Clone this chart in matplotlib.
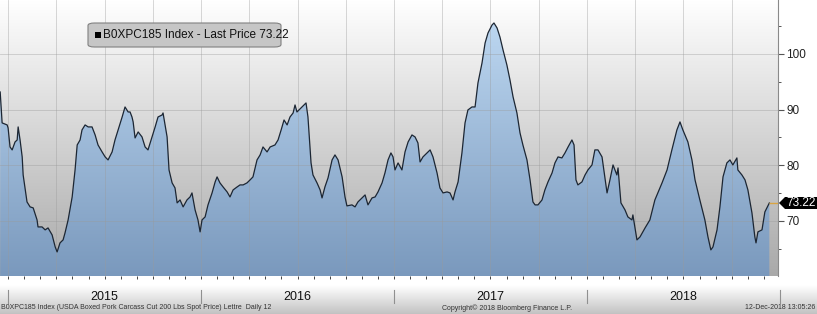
import numpy as np
import matplotlib
matplotlib.use('Agg')
import matplotlib.pyplot as plt
import matplotlib.transforms as mtransforms
from matplotlib.colors import LinearSegmentedColormap
from matplotlib.patches import Polygon, FancyBboxPatch, Rectangle

plt.rcParams['font.family'] = ['Liberation Sans', 'DejaVu Sans']

# data: decimal year / price (USD/cwt)
t = [2014.959, 2014.969, 2014.995, 2015.000, 2015.010, 2015.021, 2015.036, 2015.047, 2015.052, 2015.062,
     2015.073, 2015.078, 2015.098, 2015.114, 2015.130, 2015.150, 2015.155, 2015.176, 2015.192, 2015.207,
     2015.228, 2015.244, 2015.254, 2015.269, 2015.285, 2015.295, 2015.311, 2015.332, 2015.347, 2015.358,
     2015.373, 2015.383, 2015.399, 2015.415, 2015.435, 2015.451, 2015.466, 2015.487, 2015.503, 2015.518,
     2015.539, 2015.554, 2015.570, 2015.591, 2015.606, 2015.622, 2015.632, 2015.642, 2015.648, 2015.658,
     2015.674, 2015.694, 2015.710, 2015.725, 2015.746, 2015.762, 2015.777, 2015.798, 2015.803, 2015.824,
     2015.834, 2015.850, 2015.865, 2015.876, 2015.891, 2015.907, 2015.927, 2015.943, 2015.953, 2015.969,
     2015.984, 2015.995, 2016.005, 2016.021, 2016.036, 2016.057, 2016.073, 2016.083, 2016.098, 2016.114,
     2016.135, 2016.150, 2016.166, 2016.187, 2016.202, 2016.218, 2016.238, 2016.254, 2016.269, 2016.290,
     2016.306, 2016.321, 2016.342, 2016.358, 2016.383, 2016.399, 2016.415, 2016.430, 2016.446, 2016.461,
     2016.477, 2016.487, 2016.497, 2016.518, 2016.534, 2016.544, 2016.554, 2016.570, 2016.580, 2016.601,
     2016.617, 2016.627, 2016.642, 2016.658, 2016.679, 2016.694, 2016.710, 2016.731, 2016.746, 2016.756,
     2016.782, 2016.798, 2016.813, 2016.834, 2016.850, 2016.865, 2016.886, 2016.902, 2016.917, 2016.938,
     2016.953, 2016.969, 2016.984, 2016.995, 2017.005, 2017.021, 2017.041, 2017.057, 2017.073, 2017.093,
     2017.109, 2017.124, 2017.135, 2017.150, 2017.171, 2017.187, 2017.202, 2017.223, 2017.238, 2017.254,
     2017.275, 2017.290, 2017.306, 2017.316, 2017.332, 2017.352, 2017.368, 2017.383, 2017.404, 2017.420,
     2017.435, 2017.456, 2017.472, 2017.487, 2017.508, 2017.518, 2017.534, 2017.549, 2017.565, 2017.585,
     2017.601, 2017.617, 2017.637, 2017.653, 2017.668, 2017.689, 2017.705, 2017.720, 2017.731, 2017.746,
     2017.767, 2017.782, 2017.798, 2017.819, 2017.834, 2017.850, 2017.870, 2017.886, 2017.902, 2017.922,
     2017.933, 2017.943, 2017.953, 2017.974, 2017.990, 2018.005, 2018.026, 2018.041, 2018.057, 2018.078,
     2018.093, 2018.104, 2018.119, 2018.135, 2018.155, 2018.161, 2018.176, 2018.197, 2018.212, 2018.233,
     2018.238, 2018.259, 2018.275, 2018.301, 2018.326, 2018.352, 2018.389, 2018.415, 2018.440, 2018.466,
     2018.482, 2018.497, 2018.523, 2018.544, 2018.560, 2018.585, 2018.611, 2018.627, 2018.642, 2018.653,
     2018.674, 2018.689, 2018.705, 2018.725, 2018.741, 2018.756, 2018.777, 2018.782, 2018.803, 2018.819,
     2018.834, 2018.855, 2018.870, 2018.876, 2018.886, 2018.907, 2018.922, 2018.945]
price = [93.17, 87.61, 87.25, 86.71, 83.29, 82.76, 84.19, 84.55, 86.89, 84.55,
         81.50, 78.26, 73.41, 72.52, 72.34, 70.18, 68.92, 68.92, 68.39, 68.74,
         67.49, 65.33, 64.43, 66.05, 66.59, 67.85, 70.18, 74.31, 79.16, 83.65,
         84.55, 86.35, 87.25, 86.89, 86.89, 85.45, 83.65, 82.40, 81.50, 80.96,
         82.40, 84.55, 86.35, 88.68, 90.48, 89.58, 89.58, 88.68, 87.79, 84.91,
         85.99, 85.09, 83.29, 82.76, 85.09, 86.89, 88.68, 89.04, 89.40, 85.09,
         79.16, 76.83, 75.93, 73.24, 73.77, 72.52, 73.77, 74.31, 75.03, 71.98,
         70.18, 68.03, 70.18, 70.72, 72.88, 75.03, 77.01, 77.91, 76.83, 76.11,
         75.21, 74.31, 75.57, 76.11, 76.47, 76.47, 76.83, 77.37, 77.91, 80.96,
         81.86, 83.29, 82.40, 83.29, 83.65, 84.55, 86.35, 88.14, 87.25, 88.68,
         89.40, 90.84, 89.58, 90.30, 90.84, 91.20, 88.68, 80.42, 78.26, 76.83,
         75.57, 74.13, 76.11, 77.73, 80.96, 81.86, 80.96, 77.91, 74.31, 72.70,
         72.88, 72.52, 73.41, 74.13, 74.67, 72.88, 74.13, 74.31, 75.21, 76.83,
         78.62, 80.96, 82.22, 81.50, 79.16, 80.42, 79.16, 82.40, 84.19, 85.45,
         85.09, 84.01, 80.60, 81.50, 82.22, 82.76, 81.50, 78.62, 75.93, 75.03,
         75.21, 75.03, 73.77, 75.21, 77.01, 82.22, 87.61, 89.94, 90.48, 90.48,
         94.79, 98.38, 101.98, 103.77, 105.21, 105.57, 104.67, 103.05, 100.72, 98.02,
         95.33, 92.28, 89.40, 85.81, 83.65, 80.96, 77.37, 73.41, 72.88, 72.88,
         73.77, 75.57, 77.01, 78.62, 80.42, 81.50, 81.32, 82.22, 83.29, 84.55,
         83.65, 77.37, 76.47, 77.01, 78.26, 79.16, 80.06, 82.76, 82.76, 81.50,
         77.73, 75.03, 77.37, 80.06, 78.26, 79.52, 73.24, 71.98, 70.72, 70.18,
         71.08, 66.59, 67.13, 68.74, 70.18, 73.77, 76.83, 79.16, 82.76, 86.35,
         87.79, 86.35, 84.19, 80.96, 77.37, 73.77, 70.18, 67.13, 64.79, 65.33,
         68.39, 72.52, 77.91, 80.42, 80.96, 80.06, 81.32, 79.16, 78.26, 77.37,
         75.57, 71.44, 67.13, 66.05, 68.03, 68.39, 71.62, 73.22]

years = [2015, 2016, 2017, 2018]
y_ticks = [70, 80, 90, 100]
last_price = 73.22
series_name = 'B0XPC185 Index - Last Price 73.22'
footer_left = 'B0XPC185 Index (USDA Boxed Pork Carcass Cut 200 Lbs Spot Price) Lettre  Daily 12'
footer_mid = 'Copyright\u00a9 2018 Bloomberg Finance L.P.'
footer_right = '12-Dec-2018 13:05:26'

W, H = 817, 314
fig = plt.figure(figsize=(W / 100, H / 100), dpi=100)
fig.patch.set_facecolor('white')

x0, x1 = 2014.958, 2018.99
y0, y1 = 60.1, 109.7
grad = np.linspace(1, 0, 256).reshape(-1, 1)

# bottom band with gradient
band = fig.add_axes([0, 0, 1, 38 / H])
band_cmap = LinearSegmentedColormap.from_list('band', [(0, '#c2c2c2'), (0.75, '#ffffff'), (1, '#ffffff')])
band.imshow(grad, aspect='auto', cmap=band_cmap, extent=[0, 1, 0, 1])
band.set_axis_off()

ax = fig.add_axes([0, 38 / H, 778 / W, 276 / H])
ax.patch.set_visible(False)

bg_cmap = LinearSegmentedColormap.from_list('bg', ['#a9a9a9', '#ffffff'])
ax.imshow(grad, aspect='auto', cmap=bg_cmap, extent=[x0, x1, y0, y1], zorder=0)

# area with blue gradient clipped to the series
verts = np.column_stack([np.r_[t[0], t, t[-1]], np.r_[y0, price, y0]])
poly = Polygon(verts, closed=True, facecolor='none', edgecolor='none')
ax.add_patch(poly)
blue_cmap = LinearSegmentedColormap.from_list('blue', ['#7a99bd', '#c2dcf5'])
im = ax.imshow(grad, aspect='auto', cmap=blue_cmap, extent=[x0, x1, y0, y1], zorder=1)
im.set_clip_path(poly)

ax.plot(t, price, color='#1c2633', lw=0.9, zorder=3)

# grid
for yr in years:
    for q in [0, 0.25, 0.5, 0.75]:
        ax.axvline(yr + q, color='#9a9a9a', lw=0.6, alpha=0.45, zorder=2)
for v in y_ticks:
    ax.axhline(v, color='#9a9a9a', lw=0.6, alpha=0.45, zorder=2)

# last price marker line
ax.hlines(last_price, t[-1], x1, color='#d9a441', lw=1.0, zorder=4)

ax.set_xlim(x0, x1)
ax.set_ylim(y0, y1)

for s in ['top', 'left', 'bottom']:
    ax.spines[s].set_visible(False)
ax.spines['right'].set_color('#8a8a8a')
ax.spines['right'].set_linewidth(0.8)

ax.yaxis.tick_right()
ax.set_yticks(y_ticks)
ax.set_yticks([65, 75, 85, 95, 105], minor=True)
ax.tick_params(axis='y', which='major', length=4, width=0.8, color='#555555',
               labelsize=8.5, labelcolor='#222222', pad=2)
ax.tick_params(axis='y', which='minor', length=2, width=0.7, color='#555555')

months = [yr + m / 12 for yr in years for m in range(12)]
ax.set_xticks(months)
ax.set_xticklabels([])
ax.tick_params(axis='x', which='major', length=2, width=0.7, color='#444444', direction='out')

# year labels and dividers under the plot
trans = mtransforms.blended_transform_factory(ax.transData, ax.transAxes)
for yr in years:
    ax.text(yr + 0.5, -0.076, str(yr), transform=trans, ha='center', va='center',
            fontsize=9, color='#111111', clip_on=False)
for yr in years + [2019]:
    ax.plot([yr, yr], [-0.05, -0.098], transform=trans, color='#909090', lw=0.8, clip_on=False)

# last price tag
tag = mtransforms.blended_transform_factory(fig.transFigure, ax.transData)
hh = 6 / 5.567
tag_poly = Polygon([(779 / W, last_price), (785 / W, last_price + hh), (1.0, last_price + hh),
                    (1.0, last_price - hh), (785 / W, last_price - hh)],
                   closed=True, facecolor='black', edgecolor='none', transform=tag, clip_on=False)
fig.add_artist(tag_poly)
fig.text(801 / W, last_price, '73.22', transform=tag, ha='center', va='center',
         fontsize=8.5, color='white')

# legend box
lg = FancyBboxPatch((88 / W, 1 - 47 / H), 193 / W, 24 / H, boxstyle='round,pad=0,rounding_size=0.008',
                    transform=fig.transFigure, facecolor='#c6c6c6', edgecolor='#808080', lw=0.8)
fig.add_artist(lg)
fig.add_artist(Rectangle((95 / W, 1 - 38 / H), 6 / W, 6 / H, transform=fig.transFigure,
                         facecolor='black', edgecolor='none'))
fig.text(103 / W, 1 - 35 / H, series_name, ha='left', va='center', fontsize=8.5, color='#111111')

# footer
fig.text(1 / W, 0.02, footer_left, ha='left', va='center', fontsize=5, color='#333333')
fig.text(507 / W, 0.02, footer_mid, ha='center', va='center', fontsize=5, color='#333333')
fig.text(815 / W, 0.02, footer_right, ha='right', va='center', fontsize=5, color='#333333')

fig.savefig('out.png', dpi=100)
